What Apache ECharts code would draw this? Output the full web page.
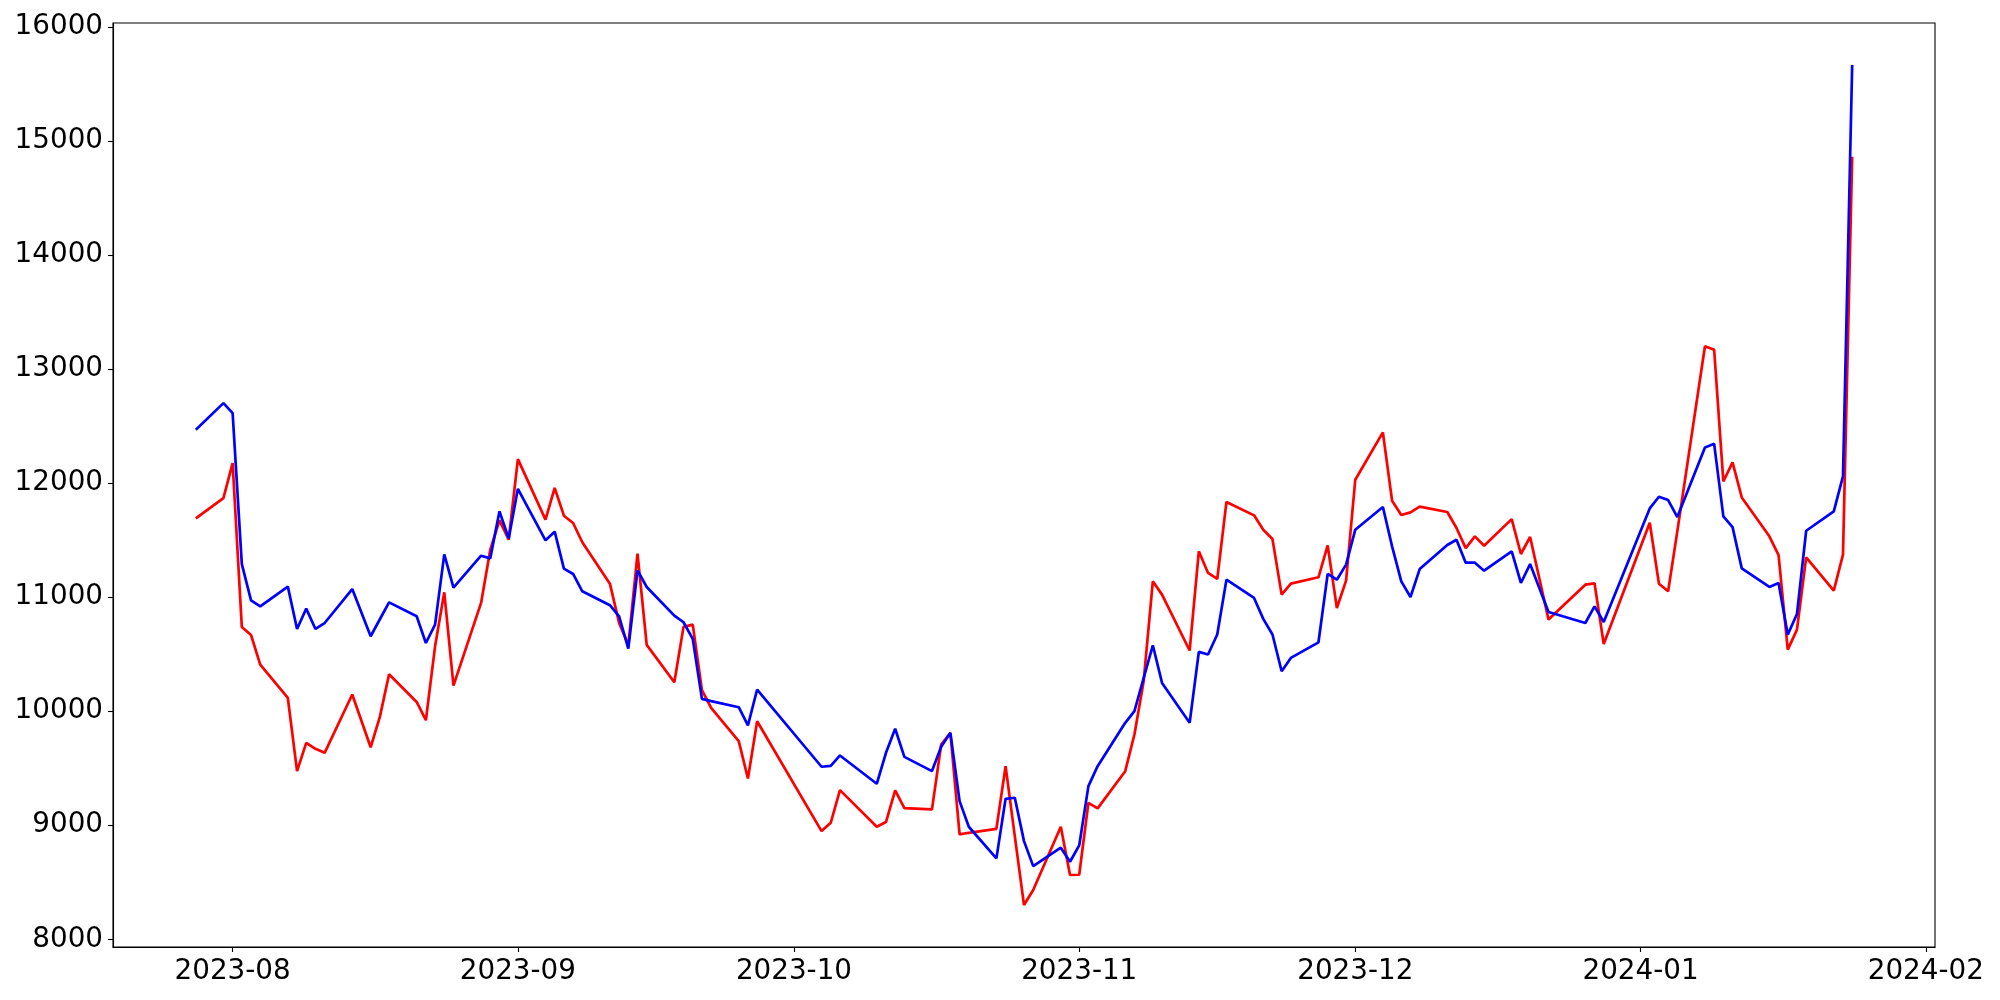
<!DOCTYPE html>
<html>
<head>
<meta charset="utf-8">
<title>line chart</title>
<script src="https://cdn.jsdelivr.net/npm/echarts@6/dist/echarts.min.js"></script>
<style>
  html, body { margin: 0; padding: 0; background: #fff; }
  #chart { width: 2000px; height: 1000px; }
</style>
</head>
<body>
<div id="chart"></div>
<script>
// trading days
const dates = [
  "2023-07-28", "2023-07-31",
  "2023-08-01", "2023-08-02", "2023-08-03", "2023-08-04", "2023-08-07", "2023-08-08", "2023-08-09", "2023-08-10",
  "2023-08-11", "2023-08-14", "2023-08-16", "2023-08-17", "2023-08-18", "2023-08-21", "2023-08-22", "2023-08-23",
  "2023-08-24", "2023-08-25", "2023-08-28", "2023-08-29", "2023-08-30", "2023-08-31",
  "2023-09-01", "2023-09-04", "2023-09-05", "2023-09-06", "2023-09-07", "2023-09-08", "2023-09-11", "2023-09-12",
  "2023-09-13", "2023-09-14", "2023-09-15", "2023-09-18", "2023-09-19", "2023-09-20", "2023-09-21", "2023-09-22",
  "2023-09-25", "2023-09-26", "2023-09-27",
  "2023-10-04", "2023-10-05", "2023-10-06", "2023-10-10", "2023-10-11", "2023-10-12", "2023-10-13", "2023-10-16",
  "2023-10-17", "2023-10-18", "2023-10-19", "2023-10-20", "2023-10-23", "2023-10-24", "2023-10-25", "2023-10-26",
  "2023-10-27", "2023-10-30", "2023-10-31",
  "2023-11-01", "2023-11-02", "2023-11-03", "2023-11-06", "2023-11-07", "2023-11-08", "2023-11-09", "2023-11-10",
  "2023-11-13", "2023-11-14", "2023-11-15", "2023-11-16", "2023-11-17", "2023-11-20", "2023-11-21", "2023-11-22",
  "2023-11-23", "2023-11-24", "2023-11-27", "2023-11-28", "2023-11-29", "2023-11-30",
  "2023-12-01", "2023-12-04", "2023-12-05", "2023-12-06", "2023-12-07", "2023-12-08", "2023-12-11", "2023-12-12",
  "2023-12-13", "2023-12-14", "2023-12-15", "2023-12-18", "2023-12-19", "2023-12-20", "2023-12-21", "2023-12-22",
  "2023-12-26", "2023-12-27", "2023-12-28",
  "2024-01-02", "2024-01-03", "2024-01-04", "2024-01-05", "2024-01-08", "2024-01-09", "2024-01-10", "2024-01-11",
  "2024-01-12", "2024-01-15", "2024-01-16", "2024-01-17", "2024-01-18", "2024-01-19", "2024-01-22", "2024-01-23",
  "2024-01-24"
];

const redValues = [
  11690, 11868,
  12175, 10738, 10668, 10408, 10116, 9474, 9722, 9670,
  9635, 10146, 9684, 9950, 10324, 10081, 9921, 10569,
  11042, 10224, 10949, 11416, 11673, 11503,
  12210, 11679, 11957, 11714, 11650, 11481, 11118, 10774,
  10580, 11381, 10581, 10254, 10739, 10759, 10184, 10029,
  9737, 9410, 9912,
  8949, 9022, 9308, 8987, 9028, 9305, 9150, 9139,
  9708, 9810, 8920, 8934, 8969, 9518, 8905, 8301,
  8432, 8987, 8564,
  8566, 9197, 9148, 9474, 9796, 10260, 11139, 11022,
  10532, 11402, 11212, 11159, 11834, 11717, 11591, 11510,
  11022, 11118, 11174, 11454, 10905, 11145,
  12029, 12444, 11845, 11720, 11743, 11793, 11746, 11606,
  11430, 11533, 11451, 11684, 11378, 11527, 11165, 10803,
  11109, 11121, 10589,
  11652, 11118, 11051, 11579, 13200, 13168, 12014, 12181,
  11874, 11533, 11369, 10540, 10715, 11349, 11057, 11372,
  14860
];

const blueValues = [
  12467, 12701,
  12613, 11290, 10972, 10919, 11092, 10721, 10899, 10721,
  10773, 11071, 10657, 10806, 10954, 10832, 10598, 10759,
  11375, 11083, 11363, 11340, 11752, 11515,
  11950, 11498, 11574, 11250, 11203, 11051, 10929, 10832,
  10549, 11235, 11089, 10838, 10780, 10634, 10108, 10088,
  10035, 9875, 10190,
  9513, 9521, 9612, 9364, 9635, 9846, 9600, 9475,
  9688, 9810, 9212, 8987, 8710, 9232, 9241, 8861,
  8642, 8803, 8680,
  8823, 9343, 9518, 9898, 10000, 10290, 10578, 10248,
  9898, 10520, 10497, 10672, 11153, 10993, 10809, 10672,
  10350, 10467, 10604, 11203, 11153, 11285,
  11591, 11790, 11445, 11138, 11001, 11246, 11457, 11503,
  11302, 11302, 11232, 11401, 11124, 11290, 11080, 10870,
  10773, 10919, 10782,
  11778, 11880, 11851, 11702, 12312, 12344, 11708, 11614,
  11252, 11089, 11124, 10671, 10852, 11582, 11752, 12058,
  15665
];

const yTicks = [8000, 9000, 10000, 11000, 12000, 13000, 14000, 15000, 16000];
const xTicks = ["2023-08-01", "2023-09-01", "2023-10-01", "2023-11-01", "2023-12-01", "2024-01-01", "2024-02-01"];

function toTime(s) {
  const p = s.split("-");
  return new Date(+p[0], +p[1] - 1, +p[2]).getTime();
}
function monthLabel(v) {
  const d = new Date(v);
  const m = d.getMonth() + 1;
  return d.getFullYear() + "-" + (m < 10 ? "0" + m : m);
}

// 5% margins like matplotlib autoscale
const times = dates.map(toTime);
const tMin = times[0], tMax = times[times.length - 1];
const allValues = redValues.concat(blueValues);
const vMin = Math.min.apply(null, allValues), vMax = Math.max.apply(null, allValues);
const tPad = (tMax - tMin) * 0.05, vPad = (vMax - vMin) * 0.05;
const xTickTimes = xTicks.map(toTime);

const labelStyle = {
  color: "#000",
  fontFamily: "DejaVu Sans",
  fontSize: 27.8,
};

const chart = echarts.init(document.getElementById("chart"), null, { renderer: "canvas" });
chart.setOption({
  animation: false,
  backgroundColor: "#fff",
  grid: {
    left: 113,
    right: 65,
    top: 23,
    bottom: 53,
    show: true,
    borderColor: "#000",
    borderWidth: 1.1,
    outerBoundsMode: "none",
  },
  xAxis: {
    type: "value",
    min: tMin - tPad,
    max: tMax + tPad,
    splitLine: { show: false },
    axisLine: { lineStyle: { color: "#000", width: 1.1 } },
    axisTick: {
      show: true,
      length: 5,
      lineStyle: { color: "#000", width: 1.1 },
      customValues: xTickTimes,
    },
    axisLabel: Object.assign({}, labelStyle, {
      margin: 11,
      customValues: xTickTimes,
      formatter: monthLabel,
    }),
  },
  yAxis: {
    type: "value",
    min: vMin - vPad,
    max: vMax + vPad,
    splitLine: { show: false },
    axisLine: { show: true, lineStyle: { color: "#000", width: 1.1 } },
    axisTick: {
      show: true,
      length: 5,
      lineStyle: { color: "#000", width: 1.1 },
      customValues: yTicks,
    },
    axisLabel: Object.assign({}, labelStyle, {
      margin: 10,
      customValues: yTicks,
      formatter: (v) => String(v),
    }),
  },
  series: [
    {
      name: "red",
      type: "line",
      data: times.map((t, i) => [t, redValues[i]]),
      showSymbol: false,
      lineStyle: { color: "#ff0000", width: 2.7 },
      itemStyle: { color: "#ff0000" },
    },
    {
      name: "blue",
      type: "line",
      data: times.map((t, i) => [t, blueValues[i]]),
      showSymbol: false,
      lineStyle: { color: "#0000ff", width: 2.7 },
      itemStyle: { color: "#0000ff" },
    },
  ],
});
</script>
</body>
</html>
